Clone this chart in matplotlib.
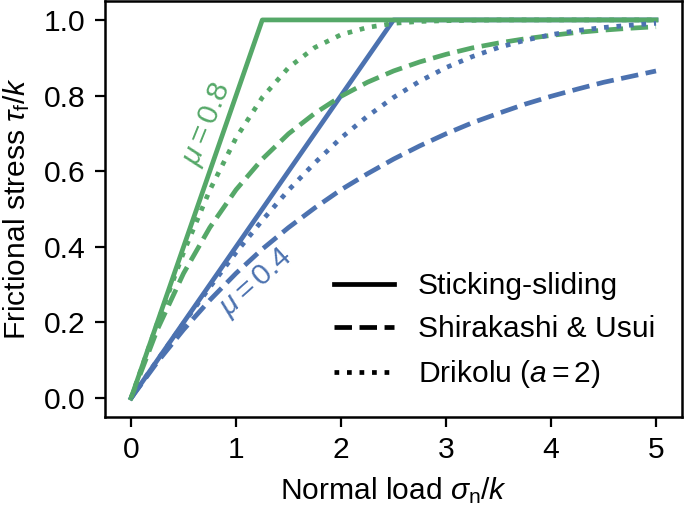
import matplotlib
matplotlib.use("Agg")
import matplotlib.pyplot as plt
from matplotlib.lines import Line2D

plt.rcParams['font.family'] = ['Liberation Sans', 'DejaVu Sans']
plt.rcParams['mathtext.fontset'] = 'custom'
plt.rcParams['mathtext.rm'] = 'Liberation Sans'
plt.rcParams['mathtext.it'] = 'Liberation Sans:italic'
plt.rcParams['font.size'] = 10.8
plt.rcParams['lines.linewidth'] = 1.7
plt.rcParams['axes.linewidth'] = 0.9

blue = '#4C72B0'
green = '#55A868'

# sticking-sliding (piecewise linear)
stick_x_04 = [0, 2.5, 5]
stick_y_04 = [0, 1.0, 1.0]
stick_x_08 = [0, 1.25, 5]
stick_y_08 = [0, 1.0, 1.0]

# sampled normal load values for the smooth curves
load = [0, 0.25, 0.5, 0.75, 1.0, 1.25, 1.5, 1.75, 2.0, 2.25, 2.5,
        2.75, 3.0, 3.25, 3.5, 3.75, 4.0, 4.25, 4.5, 4.75, 5.0]

# Shirakashi & Usui
shira_04 = [0, 0.095, 0.181, 0.259, 0.330, 0.394, 0.451, 0.503, 0.551, 0.593, 0.632,
            0.667, 0.699, 0.728, 0.753, 0.777, 0.798, 0.817, 0.835, 0.850, 0.865]
shira_08 = [0, 0.181, 0.330, 0.451, 0.551, 0.632, 0.699, 0.753, 0.798, 0.835, 0.865,
            0.889, 0.909, 0.926, 0.939, 0.950, 0.959, 0.967, 0.973, 0.978, 0.982]

# Drikolu (a = 2)
drik_04 = [0, 0.100, 0.198, 0.293, 0.385, 0.470, 0.550, 0.622, 0.688, 0.745, 0.795,
           0.838, 0.874, 0.903, 0.927, 0.946, 0.961, 0.972, 0.980, 0.986, 0.991]
drik_08 = [0, 0.198, 0.385, 0.550, 0.688, 0.795, 0.874, 0.927, 0.961, 0.980, 0.991,
           0.996, 0.998, 0.999, 1.0, 1.0, 1.0, 1.0, 1.0, 1.0, 1.0]

fig = plt.figure(figsize=(3.425, 2.535), dpi=200)
ax = fig.add_axes([0.153, 0.1775, 0.843, 0.8205])

ax.plot(stick_x_04, stick_y_04, '-', color=blue)
ax.plot(stick_x_08, stick_y_08, '-', color=green)
ax.plot(load, shira_04, '--', color=blue)
ax.plot(load, shira_08, '--', color=green)
ax.plot(load, drik_04, ':', color=blue)
ax.plot(load, drik_08, ':', color=green)

ax.text(0.73, 0.725, r'$\mu = 0.8$', color=green, rotation=68,
        ha='center', va='center')
ax.text(1.19, 0.305, r'$\mu = 0.4$', color=blue, rotation=42,
        ha='center', va='center')

ax.set_xticks([0, 1, 2, 3, 4, 5])
ax.set_yticks([0.0, 0.2, 0.4, 0.6, 0.8, 1.0])
ax.set_xlabel(r'Normal load $\sigma_\mathrm{n}/k$')
ax.set_ylabel(r'Frictional stress $\tau_\mathrm{f}/k$')

handles = [Line2D([], [], color='black', ls='-'),
           Line2D([], [], color='black', ls='--'),
           Line2D([], [], color='black', ls=':')]
ax.legend(handles, ['Sticking-sliding', 'Shirakashi & Usui', r'Drikolu ($a = 2$)'],
          loc='lower right', frameon=False)

fig.savefig('out.png', dpi=200)
